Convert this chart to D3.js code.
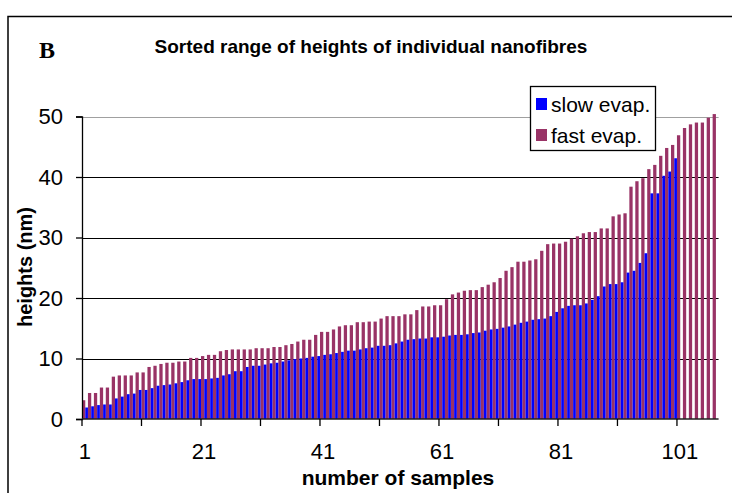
<!DOCTYPE html>
<html>
<head>
<meta charset="utf-8">
<script src="https://cdn.jsdelivr.net/npm/d3@7"></script>
<style>
  html, body { margin: 0; padding: 0; background: #fff; }
  svg { display: block; }
  text { font-family: "Liberation Sans", Arial, sans-serif; fill: #000; }
</style>
</head>
<body>
<script>
// sorted heights (nm), one value per sample
var fastEvap = [3.1, 4.3, 4.3, 5.2, 5.2, 7.0, 7.2, 7.2, 7.2, 7.7,
  7.7, 8.6, 8.8, 9.1, 9.3, 9.3, 9.5, 9.5, 10.1, 10.1,
  10.4, 10.6, 10.6, 11.2, 11.4, 11.5, 11.5, 11.5, 11.5, 11.7,
  11.7, 11.7, 11.9, 11.9, 12.2, 12.4, 12.8, 13.1, 13.1, 13.9,
  14.4, 14.4, 14.8, 15.3, 15.5, 15.5, 16.0, 16.0, 16.1, 16.1,
  16.6, 17.0, 17.0, 17.0, 17.3, 17.3, 18.0, 18.6, 18.6, 18.8,
  18.8, 19.8, 20.6, 20.9, 21.2, 21.3, 21.3, 21.8, 22.2, 22.6,
  23.3, 24.5, 25.1, 26.0, 26.0, 26.2, 26.4, 27.8, 28.9, 29.0,
  29.0, 29.3, 29.8, 30.2, 30.7, 30.9, 30.9, 31.5, 31.5, 33.5,
  33.8, 34.0, 38.4, 39.3, 39.8, 41.3, 42.0, 43.5, 44.8, 45.3,
  46.9, 48.1, 48.7, 49.0, 49.0, 49.8, 50.4];

var slowEvap = [1.9, 2.1, 2.3, 2.4, 2.4, 3.4, 3.7, 4.1, 4.2, 4.8,
  4.8, 5.1, 5.5, 5.6, 5.7, 5.9, 6.1, 6.4, 6.6, 6.6,
  6.6, 6.7, 6.8, 7.2, 7.4, 7.9, 7.9, 8.6, 8.8, 8.8,
  9.0, 9.2, 9.3, 9.5, 9.7, 9.9, 10.0, 10.1, 10.3, 10.4,
  10.6, 10.7, 10.9, 11.1, 11.3, 11.3, 11.5, 11.7, 11.8, 12.1,
  12.1, 12.2, 12.5, 12.8, 13.1, 13.2, 13.3, 13.3, 13.5, 13.5,
  13.6, 13.8, 13.9, 13.9, 14.0, 14.2, 14.3, 14.6, 14.8, 14.9,
  15.1, 15.3, 15.6, 15.9, 16.1, 16.4, 16.5, 16.6, 17.0, 17.7,
  18.3, 18.7, 18.8, 18.8, 19.1, 19.7, 20.3, 21.9, 22.3, 22.3,
  22.6, 24.2, 24.5, 25.8, 27.4, 37.3, 37.3, 40.2, 40.9, 43.1];

var samples = d3.range(1, fastEvap.length + 1);
var xLabelTicks = [1, 21, 41, 61, 81, 101];
var xMarkTicks = [1, 11, 21, 31, 41, 51, 61, 71, 81, 91, 101];
var yTicks = [0, 10, 20, 30, 40, 50];
var seriesNames = ['slow evap.', 'fast evap.'];
var seriesColors = ['#0000ff', '#993366'];

var width = 732, height = 493;
var plot = { left: 82, right: 718.6, top: 116.5, bottom: 419 };

var svg = d3.select('body').append('svg')
  .attr('width', width)
  .attr('height', height);

var x = d3.scaleBand()
  .domain(samples)
  .range([plot.left, plot.right])
  .padding(0);

var y = d3.scaleLinear()
  .domain([0, 50])
  .range([plot.bottom, plot.top]);

var bw = x.bandwidth();
var fastW = bw * 0.55;

// gridlines
svg.append('g').selectAll('line')
  .data(yTicks.slice(1))
  .enter().append('line')
  .attr('x1', plot.left)
  .attr('x2', plot.right)
  .attr('y1', function(d) { return Math.round(y(d)) + 0.5; })
  .attr('y2', function(d) { return Math.round(y(d)) + 0.5; })
  .attr('stroke', function(d) { return d === 50 ? '#a0a0a0' : '#000'; })
  .attr('stroke-width', 1);

// bars: fast on the left half, slow on the right half of each sample
svg.append('g').selectAll('rect')
  .data(fastEvap)
  .enter().append('rect')
  .attr('x', function(d, i) { return x(samples[i]); })
  .attr('y', function(d) { return y(d); })
  .attr('width', fastW)
  .attr('height', function(d) { return y(0) - y(d); })
  .attr('fill', seriesColors[1]);

svg.append('g').selectAll('rect')
  .data(slowEvap)
  .enter().append('rect')
  .attr('x', function(d, i) { return x(samples[i]) + fastW; })
  .attr('y', function(d) { return y(d); })
  .attr('width', bw - fastW)
  .attr('height', function(d) { return y(0) - y(d); })
  .attr('fill', seriesColors[0]);

// y axis
var yAxis = svg.append('g')
  .attr('transform', 'translate(' + plot.left + ',0)')
  .call(d3.axisLeft(y).tickValues(yTicks).tickSize(6).tickPadding(13));
yAxis.select('.domain').attr('stroke', '#000').attr('stroke-width', 1.3);
yAxis.selectAll('line').attr('stroke', '#000').attr('stroke-width', 1.3);
yAxis.selectAll('text').style('font-size', '22px');

// x axis line + tick marks at category boundaries
svg.append('line')
  .attr('x1', plot.left).attr('x2', plot.right)
  .attr('y1', plot.bottom).attr('y2', plot.bottom)
  .attr('stroke', '#222').attr('stroke-width', 1.5);

svg.append('g').selectAll('line')
  .data(xMarkTicks)
  .enter().append('line')
  .attr('x1', function(d) { return x(d); })
  .attr('x2', function(d) { return x(d); })
  .attr('y1', plot.bottom)
  .attr('y2', plot.bottom + 7)
  .attr('stroke', '#000')
  .attr('stroke-width', 1.3);

// x labels centred on their sample
var xAxis = svg.append('g')
  .attr('transform', 'translate(0,' + plot.bottom + ')')
  .call(d3.axisBottom(x).tickValues(xLabelTicks).tickSize(0).tickPadding(24));
xAxis.select('.domain').remove();
xAxis.selectAll('text').style('font-size', '22px');

// axis titles
svg.append('text')
  .attr('x', 398)
  .attr('y', 485)
  .attr('text-anchor', 'middle')
  .style('font-size', '21px')
  .style('font-weight', 'bold')
  .text('number of samples');

svg.append('text')
  .attr('transform', 'translate(32,267) rotate(-90)')
  .attr('text-anchor', 'middle')
  .style('font-size', '20px')
  .style('font-weight', 'bold')
  .text('heights (nm)');

// title and panel letter
svg.append('text')
  .attr('x', 371)
  .attr('y', 53)
  .attr('text-anchor', 'middle')
  .style('font-size', '19px')
  .style('font-weight', 'bold')
  .text('Sorted range of heights of individual nanofibres');

svg.append('text')
  .attr('x', 39)
  .attr('y', 58)
  .style('font-family', '"Liberation Serif", "Times New Roman", serif')
  .style('font-size', '24px')
  .style('font-weight', 'bold')
  .text('B');

// legend
var legend = svg.append('g');
legend.append('rect')
  .attr('x', 530.5).attr('y', 86.5)
  .attr('width', 125).attr('height', 64)
  .attr('fill', '#fff')
  .attr('stroke', '#000')
  .attr('stroke-width', 1.3);

var rows = legend.selectAll('g.row')
  .data(seriesNames)
  .enter().append('g')
  .attr('class', 'row')
  .attr('transform', function(d, i) { return 'translate(536,' + (104 + i * 31) + ')'; });

rows.append('rect')
  .attr('x', 0).attr('y', -6)
  .attr('width', 11).attr('height', 12)
  .attr('fill', function(d, i) { return seriesColors[i]; });

rows.append('text')
  .attr('x', 15)
  .attr('y', 7.5)
  .style('font-size', '21px')
  .text(function(d) { return d; });

// outer frame running off the page
svg.append('rect')
  .attr('x', 8).attr('y', 16.5)
  .attr('width', 800).attr('height', 600)
  .attr('fill', 'none')
  .attr('stroke', '#000')
  .attr('stroke-width', 1.5);
</script>
</body>
</html>
